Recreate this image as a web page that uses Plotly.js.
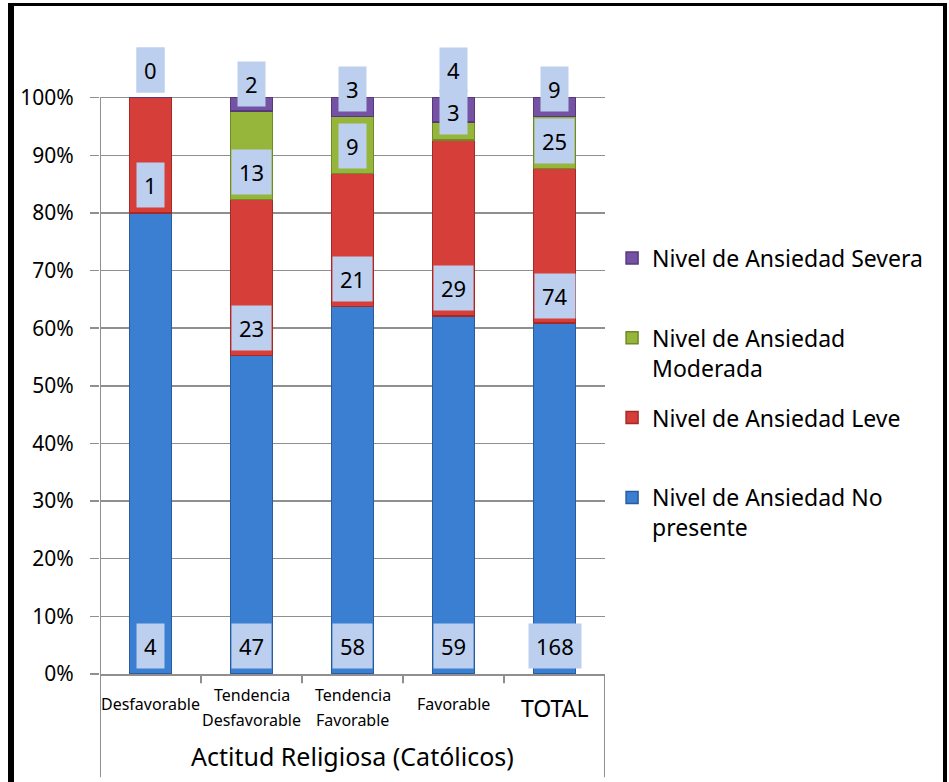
<!DOCTYPE html>
<html>
<head>
<meta charset="utf-8">
<script src="https://cdn.plot.ly/plotly-3.0.1.min.js"></script>
<style>
  html, body { margin: 0; padding: 0; background: #fff; }
  #wrap { position: relative; width: 949px; height: 782px; overflow: hidden; }
  #chart { position: absolute; left: 0; top: 0; width: 949px; height: 782px; }
  #frame { position: absolute; left: 8px; top: 3px; width: 929px; height: 800px;
           border-left: 6px solid #000; border-top: 3px solid #000; border-right: 4px solid #000;
           pointer-events: none; }
</style>
</head>
<body>
<div id="wrap">
  <div id="chart"></div>
  <div id="frame"></div>
</div>
<script>
// ---- data ----
const categories = ['Desfavorable', 'Tendencia Desfavorable', 'Tendencia Favorable', 'Favorable', 'TOTAL'];
const categoryLabelLines = [['Desfavorable'], ['Tendencia', 'Desfavorable'], ['Tendencia', 'Favorable'], ['Favorable'], ['TOTAL']];
const noPresente = [4, 47, 58, 59, 168];
const leve = [1, 23, 21, 29, 74];
const moderada = [0, 13, 9, 3, 25];
const severa = [0, 2, 3, 4, 9];
const seriesNames = [
  'Nivel de Ansiedad No<br>presente',
  'Nivel de Ansiedad Leve<br>\u00a0',
  'Nivel de Ansiedad<br>Moderada',
  'Nivel de Ansiedad Severa<br>\u00a0'
];
const legendRanks = [4, 3, 2, 1];
const seriesColors = ['#3b7fd2', '#d63e3a', '#95b53b', '#7552a3'];
const seriesEdge = ['#2a5c9c', '#a52a27', '#6f8a28', '#553a7a'];
const tickVals = [0, 0.1, 0.2, 0.3, 0.4, 0.5, 0.6, 0.7, 0.8, 0.9, 1.0];
const tickText = ['0%', '10%', '20%', '30%', '40%', '50%', '60%', '70%', '80%', '90%', '100%'];
const axisTitle = 'Actitud Religiosa (Católicos)';

const series = [noPresente, leve, moderada, severa];
const FONT = 'Noto Sans, Open Sans, sans-serif';

const traces = series.map((vals, i) => ({
  type: 'bar',
  x: categories,
  y: vals,
  name: seriesNames[i],
  legendgroup: 'g' + i,
  legendrank: legendRanks[i],
  marker: { color: seriesColors[i], line: { color: seriesEdge[i], width: 1.5 } },
  width: 0.42,
  hoverinfo: 'skip'
}));

// data labels: "inside base" like placement, computed from cumulative fractions
const annotations = [];
const LABEL_OFF = 0.048, LABEL_H = 0.073;
categories.forEach((cat, c) => {
  const total = series.reduce((s, arr) => s + arr[c], 0);
  let base = 0, prev = null;
  series.forEach((arr, i) => {
    let pos = base + LABEL_OFF;
    if (prev !== null && Math.abs(pos - prev) > 1e-9 && pos < prev + LABEL_H) pos = prev + LABEL_H;
    annotations.push({
      x: cat, y: pos, xref: 'x', yref: 'y',
      text: String(arr[c]), showarrow: false,
      font: { family: FONT, size: 22, color: '#000' },
      bgcolor: '#bccfee', borderpad: 7,
      xanchor: 'center', yanchor: 'middle'
    });
    prev = pos;
    base += arr[c] / total;
  });
});

// category labels under the axis (one annotation per line)
categories.forEach((cat, c) => {
  const lines = categoryLabelLines[c];
  const isTotal = cat === 'TOTAL';
  const ys = isTotal ? [-0.054] : (lines.length === 2 ? [-0.033, -0.073] : [-0.048]);
  lines.forEach((ln, j) => {
    annotations.push({
      x: cat, y: ys[j], xref: 'x', yref: 'paper',
      text: ln, showarrow: false,
      font: { family: FONT, size: isTotal ? 23 : 16, color: '#000' },
      xanchor: 'center', yanchor: 'middle'
    });
  });
});
// axis title (category group label)
annotations.push({
  x: (categories.length - 1) / 2, y: -0.13, xref: 'x', yref: 'paper',
  text: axisTitle, showarrow: false,
  font: { family: FONT, size: 25, color: '#000' },
  xanchor: 'center', yanchor: 'middle'
});

const gray = '#8f8f8f';
const shapes = [];
// vertical axis line only up to 100%
shapes.push({ type: 'line', xref: 'x', yref: 'y', x0: -0.5, x1: -0.5, y0: 0, y1: 1, line: { color: gray, width: 2 }, layer: 'below' });
// outer separators down to the bottom
[-0.5, categories.length - 0.5].forEach(v => shapes.push({
  type: 'line', xref: 'x', yref: 'paper', x0: v, x1: v, y0: 0, y1: -0.163, line: { color: gray, width: 2 }
}));
// inner category tick marks
for (let k = 0; k < categories.length - 1; k++) {
  shapes.push({ type: 'line', xref: 'x', yref: 'paper', x0: k + 0.5, x1: k + 0.5, y0: 0, y1: -0.0145, line: { color: gray, width: 2 } });
}

const layout = {
  width: 949, height: 782,
  margin: { l: 100, r: 344, t: 40, b: 108 },
  paper_bgcolor: '#fff', plot_bgcolor: '#fff',
  barmode: 'stack', barnorm: 'fraction',
  showlegend: true,
  legend: {
    x: 1.014, xanchor: 'left', y: 0.69, yanchor: 'top',
    traceorder: 'grouped', tracegroupgap: 17, valign: 'top',
    font: { family: FONT, size: 23, color: '#000' },
    bgcolor: 'rgba(0,0,0,0)'
  },
  xaxis: {
    type: 'category', range: [-0.5, categories.length - 0.5],
    showticklabels: false, showgrid: false, zeroline: false,
    showline: true, linecolor: gray, linewidth: 2, ticks: '', fixedrange: true
  },
  yaxis: {
    range: [0, 1.1], tickvals: tickVals, ticktext: tickText,
    showgrid: true, gridcolor: gray, gridwidth: 1.5, zeroline: false,
    showline: false, ticks: 'outside', ticklen: 9, tickcolor: gray, tickwidth: 1.5,
    ticklabelstandoff: 12,
    tickfont: { family: FONT, size: 21, color: '#000' }, fixedrange: true
  },
  annotations: annotations,
  shapes: shapes,
  font: { family: FONT }
};

Plotly.newPlot('chart', traces, layout, { displayModeBar: false, staticPlot: true });
</script>
</body>
</html>
